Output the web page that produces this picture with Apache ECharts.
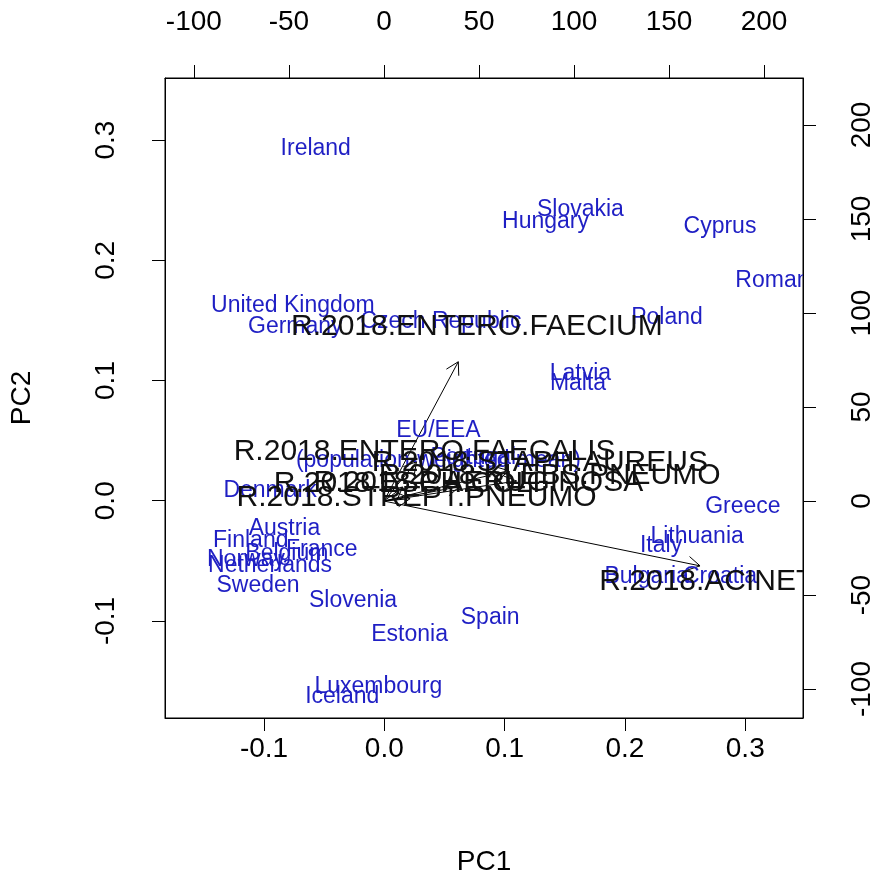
<!DOCTYPE html>
<html>
<head>
<meta charset="utf-8">
<script src="https://cdn.jsdelivr.net/npm/echarts@6/dist/echarts.min.js"></script>
<style>
  body { margin: 0; background: #fff; }
  #biplot { width: 880px; height: 884px; }
</style>
</head>
<body>
<div id="biplot"></div>
<script>
// scores (bottom / left axes)
const countries = ["Ireland", "Slovakia", "Hungary", "Cyprus", "Romania", "Poland",
    "United Kingdom", "Germany", "Czech Republic", "Latvia", "Malta",
    "EU/EEA\n(population-weighted mean)", "Portugal", "Denmark", "Greece", "Lithuania",
    "Italy", "Bulgaria", "Croatia", "Austria", "Finland", "France", "Belgium", "Norway",
    "Netherlands", "Sweden", "Slovenia", "Spain", "Estonia", "Luxembourg", "Iceland"];
const pc1 = [-0.057, 0.163, 0.134, 0.279, 0.330, 0.235,
    -0.076, -0.074, 0.047, 0.163, 0.161,
    0.045, 0.074, -0.095, 0.298, 0.260,
    0.230, 0.218, 0.279, -0.083, -0.111, -0.052, -0.081, -0.115,
    -0.095, -0.105, -0.026, 0.088, 0.021, -0.005, -0.035];
const pc2 = [0.293, 0.242, 0.232, 0.228, 0.183, 0.152,
    0.162, 0.145, 0.149, 0.106, 0.097,
    0.046, 0.036, 0.008, -0.005, -0.030,
    -0.037, -0.063, -0.063, -0.023, -0.033, -0.041, -0.044, -0.049,
    -0.054, -0.071, -0.083, -0.097, -0.111, -0.155, -0.163];

// loadings (top / right axes)
const variables = ["R.2018.ENTERO.FAECIUM", "R.2018.ENTERO.FAECALIS", "R.2018.STAPH.AUREUS",
    "R.2018.KLEBS.PNEUMO", "R.2018.P.AERUGINOSA", "R.2018.ESCH.COLI",
    "R.2018.STREPT.PNEUMO", "R.2018.ACINETOBACTER"];
const loadX = [48.9, 21.4, 82.0, 87.2, 49.7, 12.2, 17.2, 207.9];
const loadY = [92.6, 26.1, 20.2, 13.3, 9.6, 9.0, 1.6, -43.1];

const pcTicksX = [-0.1, 0.0, 0.1, 0.2, 0.3];
const pcTicksY = [-0.1, 0.0, 0.1, 0.2, 0.3];
const topTicks = [-100, -50, 0, 50, 100, 150, 200];
const rightTicks = [-100, -50, 0, 50, 100, 150, 200];

const FONT = "Liberation Sans, Arial, sans-serif";
const chart = echarts.init(document.getElementById("biplot"));

function axisCommon(ticks, fmt, rot, margin) {
    return {
        type: "value",
        axisLine: { show: true, onZero: false, lineStyle: { color: "#000", width: 1 } },
        axisTick: { show: true, length: 13, customValues: ticks, lineStyle: { color: "#000" } },
        axisLabel: { customValues: ticks, formatter: fmt, rotate: rot, margin: margin,
            color: "#000", fontSize: 28, fontFamily: FONT },
        splitLine: { show: false }
    };
}

const fmt1 = v => v.toFixed(1);
const fmt0 = v => String(Math.round(v));

chart.setOption({
    animation: false,
    grid: { left: 163, top: 78, width: 640, height: 640, show: true,
        borderColor: "#000", borderWidth: 1 },
    xAxis: [
        Object.assign(axisCommon(pcTicksX, fmt1, 0, 17), {
            position: "bottom", min: -0.1823, max: 0.348,
            name: "PC1", nameLocation: "middle", nameGap: 130,
            nameTextStyle: { fontSize: 28, fontFamily: FONT, color: "#000" }
        }),
        Object.assign(axisCommon(topTicks, fmt0, 0, 42), {
            position: "top", min: -115.2, max: 220.5
        })
    ],
    yAxis: [
        Object.assign(axisCommon(pcTicksY, fmt1, 90, 45), {
            position: "left", min: -0.1807, max: 0.3516,
            name: "PC2", nameLocation: "middle", nameGap: 129, nameRotate: 90,
            nameTextStyle: { fontSize: 28, fontFamily: FONT, color: "#000" }
        }),
        Object.assign(axisCommon(rightTicks, fmt0, 90, 45), {
            position: "right", min: -115.4, max: 225.0
        })
    ],
    series: [
        {
            // arrows from origin to 0.8 * loading (as R biplot does)
            type: "custom",
            xAxisIndex: 1, yAxisIndex: 1,
            clip: true,
            data: loadX.map((x, i) => [x * 0.8, loadY[i] * 0.8]),
            renderItem: function (params, api) {
                const o = api.coord([0, 0]);
                const t = api.coord([api.value(0), api.value(1)]);
                const ang = Math.atan2(t[1] - o[1], t[0] - o[0]);
                const L = 14, a = Math.PI / 6;
                const h1 = [t[0] - L * Math.cos(ang - a), t[1] - L * Math.sin(ang - a)];
                const h2 = [t[0] - L * Math.cos(ang + a), t[1] - L * Math.sin(ang + a)];
                return {
                    type: "group",
                    children: [
                        { type: "line", shape: { x1: o[0], y1: o[1], x2: t[0], y2: t[1] },
                          style: { stroke: "#000", lineWidth: 1 } },
                        { type: "polyline", shape: { points: [h1, t, h2] },
                          style: { stroke: "#000", lineWidth: 1, fill: null } }
                    ]
                };
            }
        },
        {
            // country labels
            type: "custom",
            xAxisIndex: 0, yAxisIndex: 0,
            clip: true,
            data: pc1.map((x, i) => [x, pc2[i]]),
            renderItem: function (params, api) {
                const p = api.coord([api.value(0), api.value(1)]);
                return {
                    type: "text", x: p[0], y: p[1],
                    style: { text: countries[params.dataIndex], fill: "#1f1fc4",
                        font: "23px " + FONT, align: "center", verticalAlign: "middle",
                        lineHeight: 30 }
                };
            }
        },
        {
            // variable labels
            type: "custom",
            xAxisIndex: 1, yAxisIndex: 1,
            clip: true,
            data: loadX.map((x, i) => [x, loadY[i]]),
            renderItem: function (params, api) {
                const p = api.coord([api.value(0), api.value(1)]);
                return {
                    type: "text", x: p[0], y: p[1],
                    style: { text: variables[params.dataIndex], fill: "#111",
                        font: "30px " + FONT, align: "center", verticalAlign: "middle" }
                };
            }
        }
    ]
});
</script>
</body>
</html>
